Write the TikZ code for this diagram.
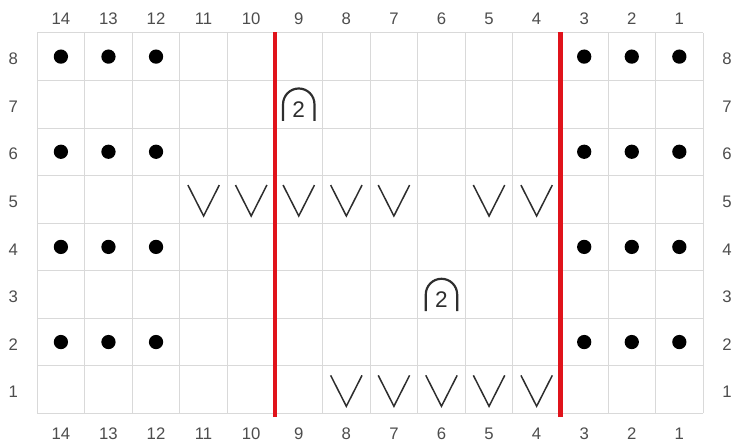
\documentclass[tikz,border=0pt]{standalone}
\usepackage{fontspec}
\setmainfont{Liberation Sans}
\definecolor{gridgray}{HTML}{D9D9D9}
\definecolor{lblgray}{HTML}{4D4D4D}
\definecolor{symgray}{HTML}{2E2E2E}
\definecolor{repred}{HTML}{E0131B}

\begin{document}
\begin{tikzpicture}[x=1cm, y=1cm,
  lbl/.style={font=\fontsize{10}{11}\selectfont, text=lblgray, inner sep=0pt},
  purl/.style={fill=black, circle, minimum size=0.3cm, inner sep=0pt},
  vmark/.style={symgray, line width=0.9pt},
  arch/.style={symgray, line width=1.3pt},
  archnum/.style={font=\fontsize{13.5}{14}\selectfont, text=symgray, inner sep=0pt}]
\useasboundingbox (-0.78,-0.63) rectangle (14.67,8.69);
% chart grid
\draw[gridgray, line width=0.5pt] (0,0) grid (14,8);
% column numbers, counted from the right
\foreach \c in {1,...,14} {
  \node[lbl] (top\c) at ({14.5-\c},8.3) {\c};
  \node[lbl] (bot\c) at ({14.5-\c},-0.43) {\c};
}
% row numbers on both sides
\foreach \r in {1,...,8} {
  \node[lbl] (left\r) at (-0.5,{\r-0.55}) {\r};
  \node[lbl] (right\r) at (14.5,{\r-0.55}) {\r};
}
% purl dots on the even rows
\foreach \r in {2,4,6,8}
  \foreach \c in {1,2,3,12,13,14}
    \node[purl] (p\r-\c) at ({14.5-\c},{\r-0.5}) {};
% slipped stitches
\foreach \r/\c in {5/11,5/10,5/9,5/8,5/7,5/5,5/4,1/8,1/7,1/6,1/5,1/4}
  \draw[vmark] ({14.17-\c},{\r-0.2}) -- ({14.5-\c},{\r-0.85}) -- ({14.83-\c},{\r-0.2});
% arches with the 2
\foreach \r/\c in {7/9,3/6} {
  \draw[arch] ({14.17-\c},{\r-0.85}) -- ({14.17-\c},{\r-0.5}) arc (180:0:0.33) -- ({14.83-\c},{\r-0.85});
  \node[archnum] (n\r) at ({14.5-\c},{\r-0.61}) {2};
}
% repeat lines
\draw[repred, line width=2.6pt] (5,-0.08) -- (5,8.02);
\draw[repred, line width=2.6pt] (11,-0.08) -- (11,8.02);
\end{tikzpicture}
\end{document}
